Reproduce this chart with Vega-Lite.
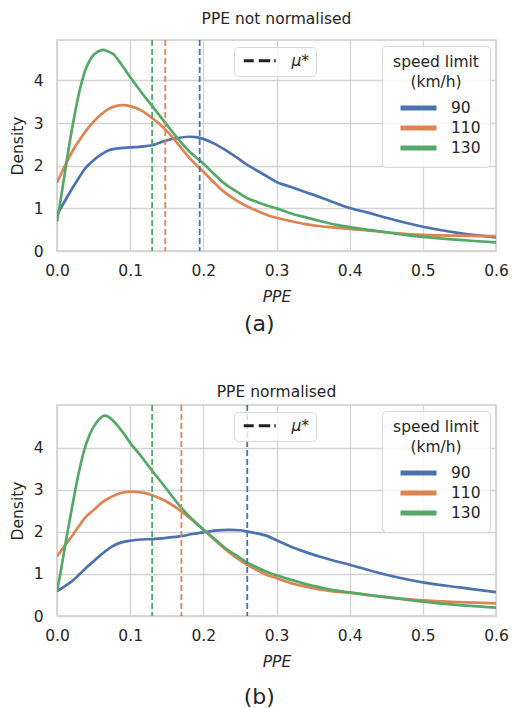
{
  "$schema": "https://vega.github.io/schema/vega-lite/v6.json",
  "padding": {"left": 9, "top": 10, "right": 2, "bottom": 2},
  "datasets": {
    "curves_a": [
      {"p":0,"density":0.85,"speed":"90"},{"p":0.01,"density":1.15,"speed":"90"},{"p":0.022,"density":1.5,"speed":"90"},{"p":0.03,"density":1.72,"speed":"90"},{"p":0.04,"density":1.97,"speed":"90"},{"p":0.05,"density":2.13,"speed":"90"},{"p":0.06,"density":2.26,"speed":"90"},{"p":0.07,"density":2.36,"speed":"90"},{"p":0.08,"density":2.4,"speed":"90"},{"p":0.09,"density":2.42,"speed":"90"},{"p":0.1,"density":2.43,"speed":"90"},{"p":0.115,"density":2.45,"speed":"90"},{"p":0.13,"density":2.48,"speed":"90"},{"p":0.147,"density":2.58,"speed":"90"},{"p":0.165,"density":2.65,"speed":"90"},{"p":0.18,"density":2.68,"speed":"90"},{"p":0.19,"density":2.67,"speed":"90"},{"p":0.2,"density":2.63,"speed":"90"},{"p":0.215,"density":2.52,"speed":"90"},{"p":0.23,"density":2.37,"speed":"90"},{"p":0.245,"density":2.2,"speed":"90"},{"p":0.26,"density":2.02,"speed":"90"},{"p":0.275,"density":1.87,"speed":"90"},{"p":0.29,"density":1.72,"speed":"90"},{"p":0.3,"density":1.62,"speed":"90"},{"p":0.32,"density":1.5,"speed":"90"},{"p":0.34,"density":1.38,"speed":"90"},{"p":0.36,"density":1.26,"speed":"90"},{"p":0.38,"density":1.13,"speed":"90"},{"p":0.4,"density":1.01,"speed":"90"},{"p":0.425,"density":0.9,"speed":"90"},{"p":0.45,"density":0.78,"speed":"90"},{"p":0.475,"density":0.67,"speed":"90"},{"p":0.5,"density":0.57,"speed":"90"},{"p":0.55,"density":0.42,"speed":"90"},{"p":0.6,"density":0.32,"speed":"90"},
      {"p":0,"density":1.6,"speed":"110"},{"p":0.01,"density":1.97,"speed":"110"},{"p":0.022,"density":2.37,"speed":"110"},{"p":0.03,"density":2.58,"speed":"110"},{"p":0.04,"density":2.83,"speed":"110"},{"p":0.05,"density":3.03,"speed":"110"},{"p":0.06,"density":3.2,"speed":"110"},{"p":0.07,"density":3.33,"speed":"110"},{"p":0.08,"density":3.4,"speed":"110"},{"p":0.09,"density":3.42,"speed":"110"},{"p":0.1,"density":3.4,"speed":"110"},{"p":0.115,"density":3.3,"speed":"110"},{"p":0.13,"density":3.12,"speed":"110"},{"p":0.147,"density":2.87,"speed":"110"},{"p":0.165,"density":2.52,"speed":"110"},{"p":0.18,"density":2.2,"speed":"110"},{"p":0.195,"density":1.94,"speed":"110"},{"p":0.2,"density":1.86,"speed":"110"},{"p":0.215,"density":1.6,"speed":"110"},{"p":0.229,"density":1.38,"speed":"110"},{"p":0.245,"density":1.19,"speed":"110"},{"p":0.261,"density":1.04,"speed":"110"},{"p":0.275,"density":0.93,"speed":"110"},{"p":0.288,"density":0.84,"speed":"110"},{"p":0.3,"density":0.78,"speed":"110"},{"p":0.32,"density":0.7,"speed":"110"},{"p":0.34,"density":0.63,"speed":"110"},{"p":0.36,"density":0.58,"speed":"110"},{"p":0.38,"density":0.55,"speed":"110"},{"p":0.4,"density":0.52,"speed":"110"},{"p":0.45,"density":0.44,"speed":"110"},{"p":0.5,"density":0.38,"speed":"110"},{"p":0.55,"density":0.36,"speed":"110"},{"p":0.6,"density":0.35,"speed":"110"},
      {"p":0,"density":0.69,"speed":"130"},{"p":0.005,"density":1.2,"speed":"130"},{"p":0.01,"density":1.75,"speed":"130"},{"p":0.015,"density":2.3,"speed":"130"},{"p":0.022,"density":3.0,"speed":"130"},{"p":0.031,"density":3.77,"speed":"130"},{"p":0.04,"density":4.3,"speed":"130"},{"p":0.05,"density":4.6,"speed":"130"},{"p":0.063,"density":4.72,"speed":"130"},{"p":0.07,"density":4.68,"speed":"130"},{"p":0.077,"density":4.62,"speed":"130"},{"p":0.085,"density":4.45,"speed":"130"},{"p":0.092,"density":4.28,"speed":"130"},{"p":0.1,"density":4.08,"speed":"130"},{"p":0.115,"density":3.73,"speed":"130"},{"p":0.131,"density":3.38,"speed":"130"},{"p":0.147,"density":3.03,"speed":"130"},{"p":0.165,"density":2.64,"speed":"130"},{"p":0.18,"density":2.35,"speed":"130"},{"p":0.2,"density":2.05,"speed":"130"},{"p":0.215,"density":1.8,"speed":"130"},{"p":0.229,"density":1.58,"speed":"130"},{"p":0.245,"density":1.4,"speed":"130"},{"p":0.261,"density":1.23,"speed":"130"},{"p":0.275,"density":1.14,"speed":"130"},{"p":0.288,"density":1.06,"speed":"130"},{"p":0.3,"density":1.0,"speed":"130"},{"p":0.32,"density":0.88,"speed":"130"},{"p":0.34,"density":0.79,"speed":"130"},{"p":0.36,"density":0.7,"speed":"130"},{"p":0.38,"density":0.62,"speed":"130"},{"p":0.4,"density":0.56,"speed":"130"},{"p":0.45,"density":0.44,"speed":"130"},{"p":0.5,"density":0.33,"speed":"130"},{"p":0.55,"density":0.26,"speed":"130"},{"p":0.6,"density":0.2,"speed":"130"}
    ],
    "curves_b": [
      {"p":0,"density":0.59,"speed":"90"},{"p":0.01,"density":0.7,"speed":"90"},{"p":0.022,"density":0.85,"speed":"90"},{"p":0.03,"density":0.98,"speed":"90"},{"p":0.04,"density":1.15,"speed":"90"},{"p":0.05,"density":1.3,"speed":"90"},{"p":0.063,"density":1.5,"speed":"90"},{"p":0.075,"density":1.65,"speed":"90"},{"p":0.086,"density":1.74,"speed":"90"},{"p":0.1,"density":1.79,"speed":"90"},{"p":0.115,"density":1.82,"speed":"90"},{"p":0.13,"density":1.83,"speed":"90"},{"p":0.15,"density":1.86,"speed":"90"},{"p":0.17,"density":1.9,"speed":"90"},{"p":0.185,"density":1.95,"speed":"90"},{"p":0.2,"density":1.99,"speed":"90"},{"p":0.215,"density":2.03,"speed":"90"},{"p":0.234,"density":2.05,"speed":"90"},{"p":0.25,"density":2.04,"speed":"90"},{"p":0.26,"density":2.01,"speed":"90"},{"p":0.275,"density":1.96,"speed":"90"},{"p":0.288,"density":1.9,"speed":"90"},{"p":0.3,"density":1.8,"speed":"90"},{"p":0.32,"density":1.65,"speed":"90"},{"p":0.34,"density":1.52,"speed":"90"},{"p":0.36,"density":1.41,"speed":"90"},{"p":0.38,"density":1.31,"speed":"90"},{"p":0.4,"density":1.22,"speed":"90"},{"p":0.43,"density":1.07,"speed":"90"},{"p":0.46,"density":0.94,"speed":"90"},{"p":0.5,"density":0.8,"speed":"90"},{"p":0.55,"density":0.68,"speed":"90"},{"p":0.6,"density":0.57,"speed":"90"},
      {"p":0,"density":1.42,"speed":"110"},{"p":0.01,"density":1.66,"speed":"110"},{"p":0.022,"density":1.94,"speed":"110"},{"p":0.03,"density":2.14,"speed":"110"},{"p":0.04,"density":2.37,"speed":"110"},{"p":0.05,"density":2.52,"speed":"110"},{"p":0.063,"density":2.72,"speed":"110"},{"p":0.075,"density":2.84,"speed":"110"},{"p":0.086,"density":2.92,"speed":"110"},{"p":0.1,"density":2.96,"speed":"110"},{"p":0.115,"density":2.94,"speed":"110"},{"p":0.129,"density":2.88,"speed":"110"},{"p":0.149,"density":2.73,"speed":"110"},{"p":0.17,"density":2.49,"speed":"110"},{"p":0.185,"density":2.28,"speed":"110"},{"p":0.2,"density":2.05,"speed":"110"},{"p":0.215,"density":1.82,"speed":"110"},{"p":0.229,"density":1.6,"speed":"110"},{"p":0.245,"density":1.39,"speed":"110"},{"p":0.26,"density":1.22,"speed":"110"},{"p":0.275,"density":1.08,"speed":"110"},{"p":0.288,"density":0.97,"speed":"110"},{"p":0.3,"density":0.9,"speed":"110"},{"p":0.32,"density":0.78,"speed":"110"},{"p":0.34,"density":0.7,"speed":"110"},{"p":0.36,"density":0.63,"speed":"110"},{"p":0.38,"density":0.58,"speed":"110"},{"p":0.4,"density":0.55,"speed":"110"},{"p":0.45,"density":0.45,"speed":"110"},{"p":0.5,"density":0.37,"speed":"110"},{"p":0.55,"density":0.33,"speed":"110"},{"p":0.6,"density":0.3,"speed":"110"},
      {"p":0,"density":0.59,"speed":"130"},{"p":0.005,"density":1.05,"speed":"130"},{"p":0.013,"density":1.86,"speed":"130"},{"p":0.022,"density":2.72,"speed":"130"},{"p":0.031,"density":3.51,"speed":"130"},{"p":0.04,"density":4.1,"speed":"130"},{"p":0.05,"density":4.5,"speed":"130"},{"p":0.063,"density":4.76,"speed":"130"},{"p":0.07,"density":4.74,"speed":"130"},{"p":0.078,"density":4.62,"speed":"130"},{"p":0.086,"density":4.46,"speed":"130"},{"p":0.093,"density":4.3,"speed":"130"},{"p":0.1,"density":4.12,"speed":"130"},{"p":0.115,"density":3.8,"speed":"130"},{"p":0.129,"density":3.48,"speed":"130"},{"p":0.149,"density":3.04,"speed":"130"},{"p":0.17,"density":2.57,"speed":"130"},{"p":0.185,"density":2.3,"speed":"130"},{"p":0.2,"density":2.06,"speed":"130"},{"p":0.215,"density":1.84,"speed":"130"},{"p":0.229,"density":1.63,"speed":"130"},{"p":0.245,"density":1.44,"speed":"130"},{"p":0.26,"density":1.27,"speed":"130"},{"p":0.275,"density":1.14,"speed":"130"},{"p":0.288,"density":1.04,"speed":"130"},{"p":0.3,"density":0.97,"speed":"130"},{"p":0.32,"density":0.86,"speed":"130"},{"p":0.34,"density":0.76,"speed":"130"},{"p":0.36,"density":0.68,"speed":"130"},{"p":0.38,"density":0.61,"speed":"130"},{"p":0.4,"density":0.56,"speed":"130"},{"p":0.45,"density":0.45,"speed":"130"},{"p":0.5,"density":0.34,"speed":"130"},{"p":0.55,"density":0.26,"speed":"130"},{"p":0.6,"density":0.2,"speed":"130"}
    ],
    "means_a": [
      {"mu":0.195,"speed":"90","kind":"μ*"},{"mu":0.148,"speed":"110","kind":"μ*"},{"mu":0.13,"speed":"130","kind":"μ*"}
    ],
    "means_b": [
      {"mu":0.26,"speed":"90","kind":"μ*"},{"mu":0.17,"speed":"110","kind":"μ*"},{"mu":0.13,"speed":"130","kind":"μ*"}
    ]
  },
  "config": {
    "font": "DejaVu Sans",
    "view": {"stroke": "#cccccc", "strokeWidth": 1.5},
    "axis": {
      "grid": true, "gridColor": "#d4d4d4", "gridWidth": 1.3,
      "domain": false, "ticks": false, "labelFlush": false,
      "labelFont": "DejaVu Sans", "labelFontSize": 15.5, "labelColor": "#262626",
      "titleFont": "DejaVu Sans", "titleFontSize": 15.5, "titleFontWeight": "normal", "titleColor": "#262626"
    },
    "legend": {
      "labelFont": "DejaVu Sans", "labelFontSize": 15.5, "labelColor": "#262626",
      "titleFont": "DejaVu Sans", "titleFontSize": 15.5, "titleFontWeight": "normal", "titleColor": "#262626",
      "strokeColor": "#d9d9d9", "fillColor": "rgba(255,255,255,0.8)", "cornerRadius": 4
    },
    "title": {"font": "DejaVu Sans", "fontSize": 15.5, "fontWeight": "normal", "color": "#262626", "anchor": "middle"}
  },
  "spacing": 48,
  "resolve": {"scale": {"color": "independent", "opacity": "independent"}, "legend": {"color": "independent", "opacity": "independent"}},
  "vconcat": [
    {
      "title": {"text": "(a)", "orient": "bottom", "fontSize": 22, "offset": 8, "anchor": "middle"},
      "resolve": {"scale": {"color": "independent", "opacity": "independent"}, "legend": {"color": "independent", "opacity": "independent"}},
      "vconcat": [
        {
          "title": {"text": "PPE not normalised", "offset": 12},
          "width": 439, "height": 211,
          "layer": [
            {
              "data": {"name": "curves_a"},
              "mark": {"type": "line", "strokeWidth": 2.7, "interpolate": "catmull-rom", "clip": true},
              "encoding": {
                "x": {"field": "p", "type": "quantitative", "scale": {"domain": [0, 0.6], "nice": false}, "axis": {"values": [0, 0.1, 0.2, 0.3, 0.4, 0.5, 0.6], "format": ".1f", "title": "PPE", "titleFontStyle": "italic", "labelPadding": 12, "titlePadding": 11}},
                "y": {"field": "density", "type": "quantitative", "scale": {"domain": [0, 4.95], "nice": false}, "axis": {"values": [0, 1, 2, 3, 4], "title": "Density", "labelPadding": 14, "titlePadding": 8}},
                "color": {"field": "speed", "type": "nominal", "scale": {"domain": ["90", "110", "130"], "range": ["#4c72b0", "#dd8452", "#55a868"]},
                  "legend": {"title": ["speed limit", "(km/h)"], "orient": "top-right", "offset": 6, "titleAnchor": "middle", "titleAlign": "center", "titleLineHeight": 20, "titlePadding": 9, "symbolType": "M-3,0H3", "symbolStrokeWidth": 5, "symbolSize": 144, "symbolOffset": 19, "labelOffset": 24, "padding": 9, "rowPadding": -1}},
                "detail": {"field": "speed"}
              }
            },
            {
              "data": {"name": "means_a"},
              "mark": {"type": "rule", "strokeWidth": 1.8, "strokeDash": [6, 3]},
              "encoding": {
                "x": {"field": "mu", "type": "quantitative"},
                "color": {"field": "speed", "type": "nominal"},
                "opacity": {"field": "kind", "type": "nominal", "scale": {"domain": ["μ*"], "range": [1]},
                  "legend": {"title": null, "orient": "none", "legendX": 177, "legendY": 7, "symbolType": "M-3.2,0H-1.2M-0.2,0H2.1M2.9,0H3.2", "symbolStrokeColor": "#222222", "symbolStrokeWidth": 3.2, "symbolSize": 100, "symbolOffset": 12, "labelFontStyle": "italic", "labelOffset": 24, "padding": 6}}
              }
            }
          ]
        }
      ]
    },
    {
      "title": {"text": "(b)", "orient": "bottom", "fontSize": 22, "offset": 16, "anchor": "middle"},
      "resolve": {"scale": {"color": "independent", "opacity": "independent"}, "legend": {"color": "independent", "opacity": "independent"}},
      "vconcat": [
        {
          "title": {"text": "PPE normalised", "offset": 4},
          "width": 439, "height": 211,
          "layer": [
            {
              "data": {"name": "curves_b"},
              "mark": {"type": "line", "strokeWidth": 2.7, "interpolate": "catmull-rom", "clip": true},
              "encoding": {
                "x": {"field": "p", "type": "quantitative", "scale": {"domain": [0, 0.6], "nice": false}, "axis": {"values": [0, 0.1, 0.2, 0.3, 0.4, 0.5, 0.6], "format": ".1f", "title": "PPE", "titleFontStyle": "italic", "labelPadding": 12, "titlePadding": 11}},
                "y": {"field": "density", "type": "quantitative", "scale": {"domain": [0, 5.02], "nice": false}, "axis": {"values": [0, 1, 2, 3, 4], "title": "Density", "labelPadding": 14, "titlePadding": 8}},
                "color": {"field": "speed", "type": "nominal", "scale": {"domain": ["90", "110", "130"], "range": ["#4c72b0", "#dd8452", "#55a868"]},
                  "legend": {"title": ["speed limit", "(km/h)"], "orient": "top-right", "offset": 6, "titleAnchor": "middle", "titleAlign": "center", "titleLineHeight": 20, "titlePadding": 9, "symbolType": "M-3,0H3", "symbolStrokeWidth": 5, "symbolSize": 144, "symbolOffset": 19, "labelOffset": 24, "padding": 9, "rowPadding": -1}},
                "detail": {"field": "speed"}
              }
            },
            {
              "data": {"name": "means_b"},
              "mark": {"type": "rule", "strokeWidth": 1.8, "strokeDash": [6, 3]},
              "encoding": {
                "x": {"field": "mu", "type": "quantitative"},
                "color": {"field": "speed", "type": "nominal"},
                "opacity": {"field": "kind", "type": "nominal", "scale": {"domain": ["μ*"], "range": [1]},
                  "legend": {"title": null, "orient": "none", "legendX": 177, "legendY": 7, "symbolType": "M-3.2,0H-1.2M-0.2,0H2.1M2.9,0H3.2", "symbolStrokeColor": "#222222", "symbolStrokeWidth": 3.2, "symbolSize": 100, "symbolOffset": 12, "labelFontStyle": "italic", "labelOffset": 24, "padding": 6}}
              }
            }
          ]
        }
      ]
    }
  ]
}
